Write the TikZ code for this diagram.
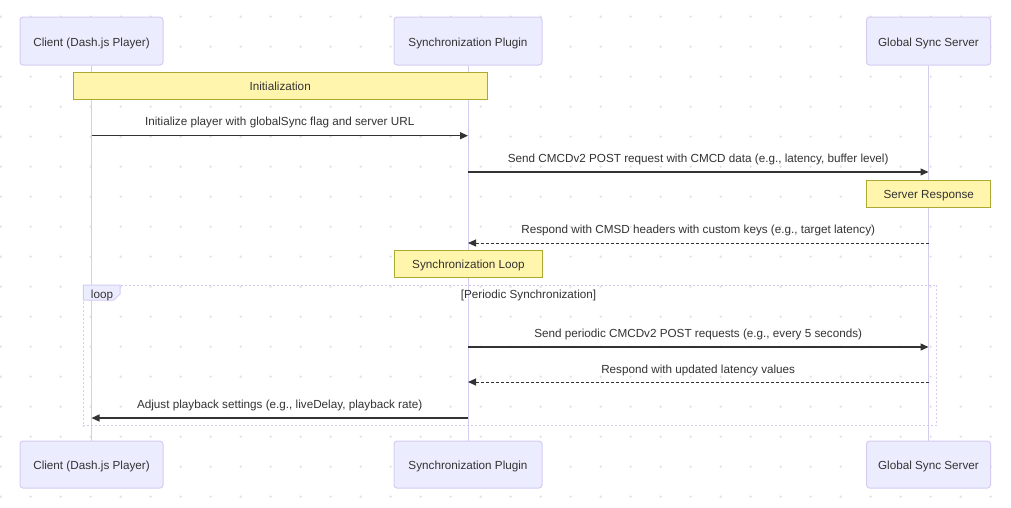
\documentclass[tikz,border=0pt]{standalone}
\usepackage{fontspec}
\setmainfont{Liberation Sans}
\usetikzlibrary{arrows.meta}
\definecolor{actfill}{HTML}{ECECFF}
\definecolor{actline}{HTML}{D6CCF2}
\definecolor{notefill}{HTML}{FFF5AD}
\definecolor{noteline}{HTML}{AAAA33}
\definecolor{txt}{HTML}{333333}
\definecolor{dotc}{HTML}{E3E3E3}
\tikzset{
  actor/.style={draw=actline, fill=actfill, rounded corners=3pt, line width=1pt, text=txt, inner sep=0pt, minimum height=48, text height=10pt, text depth=-2pt},
  notebox/.style={draw=noteline, fill=notefill, line width=1pt, text=txt, inner sep=0pt, minimum height=27, text height=9pt, text depth=0pt},
  lifeline/.style={draw=actline, line width=1pt},
  msg/.style={draw=txt, line width=1.3pt, -{Triangle[length=8pt,width=7pt]}},
  reply/.style={msg, line width=1pt, dash pattern=on 3pt off 2pt},
  lbl/.style={text=txt, inner sep=0pt},
  loopline/.style={draw=actline, line width=1pt, dash pattern=on 2pt off 2pt}
}
\begin{document}
\begin{tikzpicture}[x=1pt,y=-1pt, font=\fontsize{11.7}{14}\selectfont]
\useasboundingbox[fill=white] (0,0) rectangle (1011,507);
\foreach \i in {0,...,33}{\foreach \j in {0,...,16}{\fill[dotc] (0.7+30*\i,16.7+30*\j) circle (1.3);}}
% actors
\node[actor, minimum width=143] (c1) at (91.5,41) {Client (Dash.js Player)};
\node[actor, minimum width=148] (p1) at (468,41) {Synchronization Plugin};
\node[actor, minimum width=124] (s1) at (928.5,41) {Global Sync Server};
\node[actor, minimum width=143, minimum height=47] (c2) at (91.5,464.5) {Client (Dash.js Player)};
\node[actor, minimum width=148, minimum height=47] (p2) at (468,464.5) {Synchronization Plugin};
\node[actor, minimum width=124, minimum height=47] (s2) at (928.5,464.5) {Global Sync Server};
% lifelines
\draw[lifeline] (c1.south) -- (c2.north);
\draw[lifeline] (p1.south) -- (p2.north);
\draw[lifeline] (s1.south) -- (s2.north);
% loop frame
\node[loopline, minimum width=853.4, minimum height=140.7, inner sep=0pt] (loopbox) at (510,355.35) {};
\draw[draw=actline, fill=actfill, line width=1pt] (83.3,285) -- (120,285) -- (120,294) -- (114,300) -- (83.3,300) -- cycle;
\node[lbl] (looplbl) at (102,295.5) {loop};
\node[lbl] (loopcond) at (528.5,295.5) {[Periodic Synchronization]};
% notes
\node[notebox, minimum width=414] (n1) at (280.2,85.8) {Initialization};
\node[notebox, minimum width=124] (n2) at (928.7,193.5) {Server Response};
\node[notebox, minimum width=148.4] (n3) at (468.5,264.2) {Synchronization Loop};
% message end points
\coordinate (m1a) at (91.5,135.7); \coordinate (m1b) at (468,135.7);
\coordinate (m2a) at (468,172); \coordinate (m2b) at (928.5,172);
\coordinate (m3a) at (928.5,243); \coordinate (m3b) at (468,243);
\coordinate (m4a) at (468,347); \coordinate (m4b) at (928.5,347);
\coordinate (m5a) at (928.5,382); \coordinate (m5b) at (468,382);
\coordinate (m6a) at (468,418); \coordinate (m6b) at (91.5,418);
% messages
\draw[msg] (m1a) -- (m1b);
\node[lbl] (l1) at (279.7,122.5) {Initialize player with globalSync flag and server URL};
\draw[msg] (m2a) -- (m2b);
\node[lbl] (l2) at (698.2,159) {Send CMCDv2 POST request with CMCD data (e.g., latency, buffer level)};
\draw[reply] (m3a) -- (m3b);
\node[lbl] (l3) at (698.2,230.5) {Respond with CMSD headers with custom keys (e.g., target latency)};
\draw[msg] (m4a) -- (m4b);
\node[lbl] (l4) at (698.2,334) {Send periodic CMCDv2 POST requests (e.g., every 5 seconds)};
\draw[reply] (m5a) -- (m5b);
\node[lbl] (l5) at (698.2,370.5) {Respond with updated latency values};
\draw[msg] (m6a) -- (m6b);
\node[lbl] (l6) at (279.7,405.5) {Adjust playback settings (e.g., liveDelay, playback rate)};
\end{tikzpicture}
\end{document}
